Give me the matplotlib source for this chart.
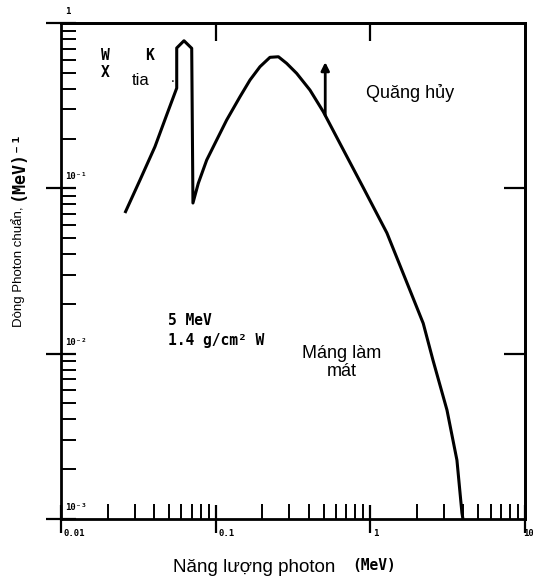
import numpy as np
import matplotlib
matplotlib.use('agg')
import matplotlib.pyplot as plt

W, H = 533, 583
SANS = 'Liberation Sans'
MONO = 'DejaVu Sans Mono'

# bremsstrahlung spectrum behind 1.4 g/cm2 W, 5 MeV electrons
energy_mev = [0.0259, 0.0324, 0.0405, 0.0482, 0.0560, 0.0560, 0.0624, 0.0700,
              0.0713, 0.0772, 0.0875, 0.1015, 0.1178, 0.1436, 0.1667, 0.1934,
              0.2244, 0.2545, 0.2877, 0.3339, 0.4071, 0.4961, 0.636, 0.896,
              1.28, 1.80, 2.198, 2.54, 3.13, 3.63, 3.91, 3.97]
flux = [0.0709, 0.1122, 0.1786, 0.2775, 0.404, 0.706, 0.781, 0.703,
        0.0815, 0.1072, 0.1483, 0.196, 0.259, 0.358, 0.452, 0.544,
        0.620, 0.625, 0.570, 0.496, 0.393, 0.291, 0.187, 0.1018,
        0.0537, 0.0243, 0.01525, 0.00915, 0.00456, 0.00227, 0.00109, 0.001]

annihilation_mev = 0.511
annihilation_top = 0.58

y_ticks = [1, 1e-1, 1e-2, 1e-3]
y_tick_labels = ['1', '10⁻¹', '10⁻²', '10⁻³']
x_ticks = [0.01, 0.1, 1, 10]
x_tick_labels = ['0.01', '0.1', '1', '10']

fig = plt.figure(figsize=(W / 100, H / 100), dpi=100)
ax = fig.add_axes([61 / W, 1 - 519 / H, (525 - 61) / W, (519 - 23) / H])
ax.set_xscale('log')
ax.set_yscale('log')
ax.set_xlim(0.01, 10)
ax.set_ylim(1e-3, 1)

for s in ax.spines.values():
    s.set_linewidth(2.0)

ax.tick_params(which='major', direction='inout', length=21, width=1.6,
               labelbottom=False, labelleft=False)
ax.tick_params(which='minor', direction='in', length=11, width=1.4)
ax.tick_params(axis='x', which='major', length=20)

# top / right carry only the decade ticks, pointing inward
top = ax.secondary_xaxis('top')
top.set_xticks([0.1, 1])
top.xaxis.set_minor_locator(matplotlib.ticker.NullLocator())
top.tick_params(direction='in', length=13, width=1.6, labeltop=False)
top.spines['top'].set_linewidth(2.0)
right = ax.secondary_yaxis('right')
right.set_yticks([0.1, 0.01])
right.yaxis.set_minor_locator(matplotlib.ticker.NullLocator())
right.tick_params(direction='in', length=15, width=1.6, labelright=False)
right.spines['right'].set_linewidth(2.0)

# tick labels sit inside the frame, just off the ticks
for v, lab in zip(y_ticks, y_tick_labels):
    ax.annotate(lab, xy=(0, v), xycoords=ax.get_yaxis_transform(),
                xytext=(3, 5), textcoords='offset points', ha='left', va='bottom',
                fontsize=6.5, family=MONO, fontweight='bold')
for v, lab in zip(x_ticks, x_tick_labels):
    dx = -1 if v == x_ticks[-1] else 2
    ax.annotate(lab, xy=(v, 0), xycoords=ax.get_xaxis_transform(),
                xytext=(dx, -7), textcoords='offset points', ha='left', va='top',
                fontsize=6.5, family=MONO, fontweight='bold', annotation_clip=False)

ax.plot(energy_mev, flux, color='black', lw=2.2, solid_joinstyle='round',
        solid_capstyle='butt', clip_on=False)

# 0.511 MeV annihilation line, standing on the continuum
e = np.array(energy_mev)
f = np.array(flux)
cont = e > 0.1
base = 10 ** np.interp(np.log10(annihilation_mev), np.log10(e[cont]),
                       np.log10(f[cont]))
ax.annotate('', xy=(annihilation_mev, annihilation_top),
            xytext=(annihilation_mev, base),
            arrowprops=dict(arrowstyle='-|>', lw=2.0, color='black',
                            mutation_scale=12, shrinkA=0, shrinkB=0))

mono = dict(family=MONO, fontweight='bold', fontsize=10.5, color='black')
sans = dict(family=SANS, fontsize=13, color='black')
ax.text(0.0193, 0.64, 'W', ha='center', va='center', **mono)
ax.text(0.0376, 0.64, 'K', ha='center', va='center', **mono)
ax.text(0.0193, 0.505, 'X', ha='center', va='center', **mono)
ax.text(0.0325, 0.452, 'tia', ha='center', va='center', family=SANS, fontsize=12)
ax.text(0.0529, 0.465, '.', ha='center', va='center', family=SANS, fontsize=10)
ax.text(1.80, 0.377, 'Quăng hủy', ha='center', va='center', **sans)
ax.text(0.0492, 0.01596, '5 MeV', ha='left', va='center', **mono)
ax.text(0.0492, 0.01208, '1.4 g/cm² W', ha='left', va='center', **mono)
ax.text(0.655, 0.0088, 'Máng làm\nmát', ha='center', va='center',
        linespacing=1.1, **sans)

# axis titles, mixed typefaces
fig.text(173 / W, 1 - 568 / H, 'Năng lượng photon', ha='left', va='center',
         family=SANS, fontsize=13.5)
fig.text(352 / W, 1 - 566 / H, '(MeV)', ha='left', va='center',
         family=MONO, fontweight='bold', fontsize=10.5)
fig.text(18 / W, 1 - 327 / H, 'Dòng Photon chuẩn,', rotation=90, ha='center',
         va='bottom', family=SANS, fontsize=9.5)
fig.text(18 / W, 1 - 200 / H, '(MeV)⁻¹', rotation=90, ha='center',
         va='bottom', family=MONO, fontweight='bold', fontsize=12)

fig.savefig('out.png', dpi=100)
